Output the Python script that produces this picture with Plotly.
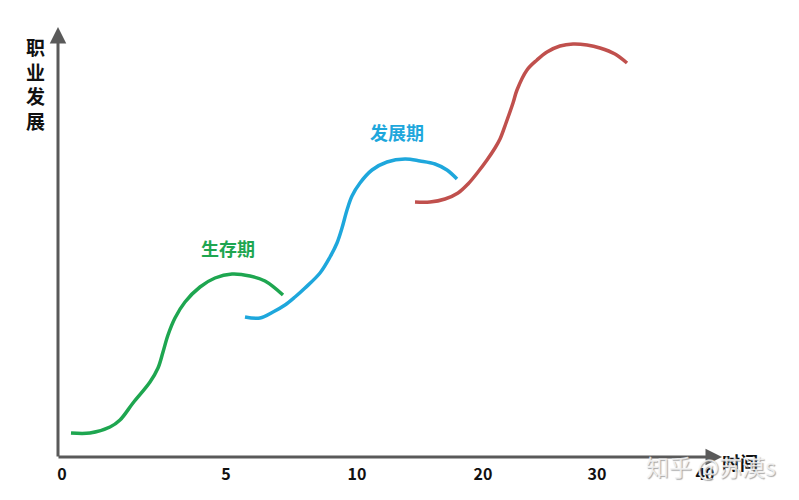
import plotly.graph_objects as go

# Values (x: position along time axis, y: career development level)
green_x = [13, 32, 52, 62, 75, 92, 100, 105, 110, 117, 127, 142, 157, 174, 192, 207, 225]
green_y = [24, 24, 30, 37, 54, 75, 89, 105, 122, 139, 155, 170, 179, 183, 181, 176, 162]

blue_x = [187, 202, 215, 227, 237, 247, 262, 272, 279, 284, 289, 294, 302, 314, 329, 347, 362, 377, 389, 399]
blue_y = [140, 139, 145, 152, 160, 169, 184, 200, 214, 229, 247, 261, 274, 287, 295, 298, 296, 293, 287, 278]

red_x = [357, 372, 387, 400, 410, 420, 429, 437, 442, 448, 455, 459, 469, 479, 489, 502, 515, 529, 542, 557, 569]
red_y = [255, 255, 258, 264, 273, 285, 297, 309, 318, 334, 354, 367, 387, 397, 405, 411, 413, 412, 409, 403, 394]

tick_pos = [4, 168, 299, 425, 539, 647]
tick_text = ["0", "5", "10", "20", "30", "40"]

stage_names = ["生存期", "发展期", "事业期"]
stage_x = [170, 339, 518]
stage_y = [209, 325, 435]

y_title_chars = ["职", "业", "发", "展"]
x_title = "时间"
watermark = "知乎 @苏漠s"

colors = ["#1ea650", "#1ea7dc", "#c0504d"]
axis_color = "#5a5a5a"
BR = "<" + "br" + ">"
FONT = "Noto Sans CJK SC"


def bold(s):
    return "<" + "b>" + s + "<" + "/b>"


fig = go.Figure()
for xs, ys, c in [(green_x, green_y, colors[0]), (blue_x, blue_y, colors[1]), (red_x, red_y, colors[2])]:
    fig.add_trace(go.Scatter(x=xs, y=ys, mode="lines",
                             line=dict(color=c, width=3.5, shape="spline", smoothing=1.0),
                             hoverinfo="skip", showlegend=False))

annotations = []
# y axis with arrow
annotations.append(dict(x=0, y=1.0, xref="paper", yref="paper", ax=0, ay=431, axref="pixel", ayref="pixel",
                        showarrow=True, arrowhead=2, arrowsize=1.1, arrowwidth=3,
                        arrowcolor=axis_color, text=""))
# x axis with arrow
annotations.append(dict(x=1.003, y=0, xref="paper", yref="paper", ax=-665, ay=0, axref="pixel", ayref="pixel",
                        showarrow=True, arrowhead=2, arrowsize=1.1, arrowwidth=3,
                        arrowcolor=axis_color, text=""))
for name, x, y, c in zip(stage_names, stage_x, stage_y, colors):
    annotations.append(dict(x=x, y=y, xref="x", yref="y", text=bold(name),
                            showarrow=False, font=dict(size=18, color=c, family=FONT)))
annotations.append(dict(x=-0.0347, y=0.868, xref="paper", yref="paper", xanchor="center", yanchor="middle",
                        text=bold(BR.join(y_title_chars)),
                        showarrow=False, font=dict(size=19, color="#111", family=FONT)))
annotations.append(dict(x=1.030, y=-0.012, xref="paper", yref="paper", xanchor="center", yanchor="middle",
                        text=bold(x_title), showarrow=False,
                        font=dict(size=18, color="#111", family=FONT)))
annotations.append(dict(x=0.986, y=-0.02, xref="paper", yref="paper", xanchor="center", yanchor="middle",
                        text=watermark, showarrow=False,
                        font=dict(size=23, color="rgba(244,244,244,0.85)", family=FONT,
                                  shadow="1px 1px 1px #999")))

fig.update_layout(
    width=799, height=500,
    margin=dict(l=50, r=87, t=19, b=51),
    plot_bgcolor="white", paper_bgcolor="white",
    xaxis=dict(range=[0, 662], showgrid=False, zeroline=False, showline=False,
               tickvals=tick_pos, ticktext=tick_text, ticks="",
               tickfont=dict(size=16, color="#111", family=FONT, weight="bold"),
               ticklabelstandoff=6, fixedrange=True),
    yaxis=dict(range=[0, 430], showgrid=False, zeroline=False, showline=False,
               showticklabels=False, fixedrange=True),
    annotations=annotations,
)

fig.write_html("out.html")
